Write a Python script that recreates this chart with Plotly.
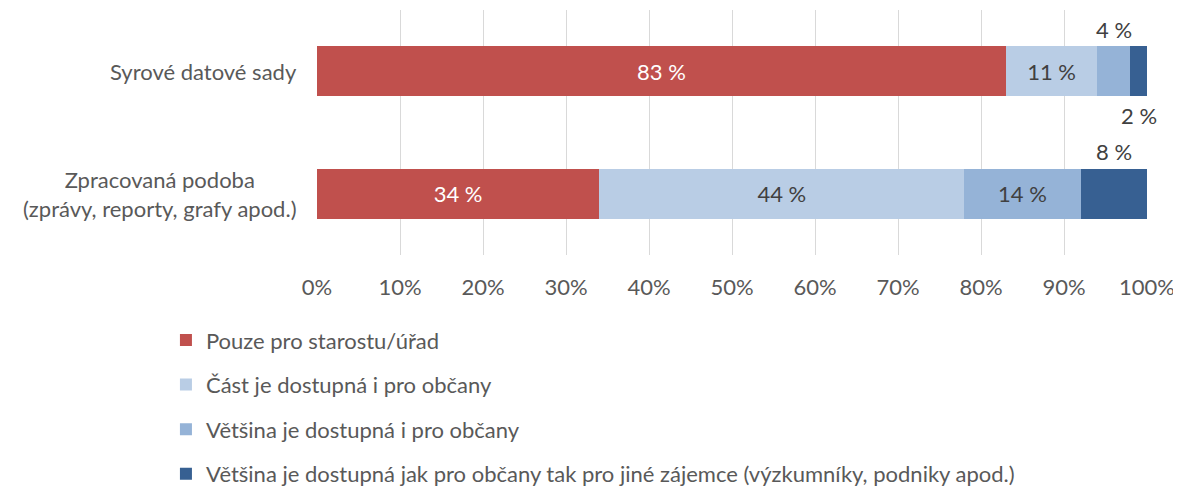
import plotly.graph_objects as go

categories = ["Syrové datové sady", "Zpracovaná podoba<br>(zprávy, reporty, grafy apod.)"]
series_names = [
    "Pouze pro starostu/úřad",
    "Část je dostupná i pro občany",
    "Většina je dostupná i pro občany",
    "Většina je dostupná jak pro občany tak pro jiné zájemce (výzkumníky, podniky apod.)",
]
series_values = [
    [83, 34],
    [11, 44],
    [4, 14],
    [2, 8],
]
tick_vals = [0, 10, 20, 30, 40, 50, 60, 70, 80, 90, 100]
tick_text = [f"{v}%" for v in tick_vals]

# styling
colors = ["#C0504D", "#B9CDE5", "#95B3D7", "#376092"]
text_colors = ["white", "#404040", "#404040", "#404040"]
# label placement per series per category: inside / above / below
placements = [
    ["inside", "inside"],
    ["inside", "inside"],
    ["above", "inside"],
    ["below", "above"],
]
FONT = "Lato, 'Open Sans', sans-serif"
FS = 22

fig = go.Figure()
for i, (name, vals) in enumerate(zip(series_names, series_values)):
    texts = [f"{v} %" if placements[i][j] == "inside" else "" for j, v in enumerate(vals)]
    fig.add_trace(go.Bar(
        y=categories, x=vals, name=name, orientation="h",
        marker=dict(color=colors[i], line=dict(width=0)),
        text=texts, textposition="inside", insidetextanchor="middle",
        textfont=dict(color=text_colors[i], size=FS, family=FONT),
        legendgroup=f"g{i}", hoverinfo="skip",
    ))

# outside value labels
for j, cat in enumerate(categories):
    cum = 0
    for i, vals in enumerate(series_values):
        v = vals[j]
        mid = cum + v / 2
        cum += v
        p = placements[i][j]
        if p in ("above", "below"):
            fig.add_annotation(
                x=mid, y=cat, text=f"{v} %", showarrow=False,
                yshift=42 if p == "above" else -44,
                font=dict(color="#404040", size=FS, family=FONT),
            )

# category labels (centered multi-line, like the original)
for cat in categories:
    fig.add_annotation(
        x=0, xref="paper", y=cat, yref="y", text=cat, showarrow=False,
        xanchor="right", xshift=-18, align="center",
        font=dict(color="#595959", size=FS, family=FONT),
    )

fig.update_layout(
    barmode="stack",
    bargap=0.59,
    width=1173, height=484,
    margin=dict(l=309, r=34, t=2, b=237, autoexpand=False),
    plot_bgcolor="white", paper_bgcolor="white",
    font=dict(family=FONT, size=FS, color="#595959"),
    showlegend=True,
    legend=dict(
        orientation="v", traceorder="grouped", tracegroupgap=13,
        x=-0.182, xanchor="left", y=-0.262, yanchor="top",
        font=dict(size=FS, color="#595959", family=FONT),
        itemwidth=30,
    ),
    xaxis=dict(
        range=[0, 100], tickvals=tick_vals, ticktext=tick_text,
        showgrid=True, gridcolor="#D9D9D9", gridwidth=1.3,
        zeroline=False, showline=False,
        ticks="outside", ticklen=13, tickcolor="rgba(0,0,0,0)",
        tickfont=dict(size=FS, color="#595959"),
        fixedrange=True,
    ),
    yaxis=dict(
        autorange="reversed", showgrid=False, zeroline=False, showline=False,
        showticklabels=False,
    ),
)

fig.write_html("out.html")
